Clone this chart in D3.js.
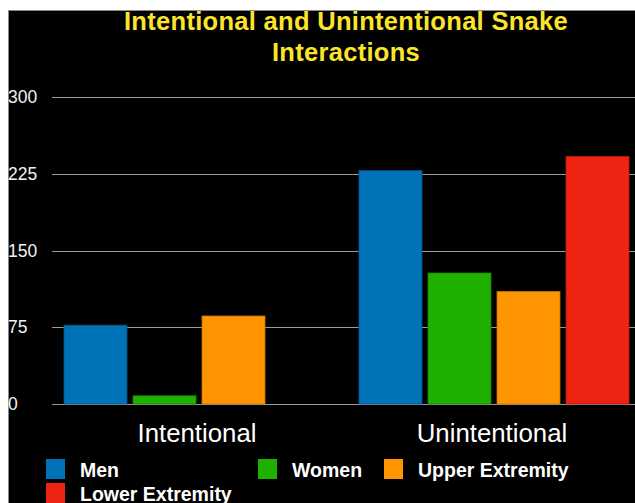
<!DOCTYPE html>
<html><head><meta charset="utf-8">
<script src="https://cdn.jsdelivr.net/npm/d3@7"></script>
<style>html,body{margin:0;padding:0;background:#fff;}svg{display:block;}</style>
</head><body>
<script>
const categories = ["Intentional", "Unintentional"];
const seriesNames = ["Men", "Women", "Upper Extremity", "Lower Extremity"];
const men = [77, 228];
const women = [8, 128];
const upperExtremity = [86, 110];
const lowerExtremity = [0, 242];
const yTicks = [0, 75, 150, 225, 300];
const titleLines = ["Intentional and Unintentional Snake", "Interactions"];
const colors = ["#0072b8", "#1eb100", "#ff9500", "#ee2311"];

const seriesValues = [men, women, upperExtremity, lowerExtremity];
const W = 635, H = 503;
const font = "'Liberation Sans', Arial, Helvetica, sans-serif";

const svg = d3.select("body").append("svg").attr("width", W).attr("height", H);
svg.append("rect").attr("x", 8.5).attr("y", 10.5).attr("width", W).attr("height", H)
  .attr("fill", "#000").attr("stroke", "#888").attr("stroke-width", 1);

const y = d3.scaleLinear().domain([0, 300]).range([404, 97]);
const x0 = d3.scaleBand().domain(categories).range([51.5, 641.5]).paddingInner(0.0847).paddingOuter(0.04235);
const x1 = d3.scaleBand().domain(seriesNames).range([0, x0.bandwidth()]).paddingInner(0.087).paddingOuter(0);

// gridlines
svg.append("g").selectAll("line").data(yTicks).join("line")
  .attr("x1", 52).attr("x2", W)
  .attr("y1", d => Math.round(y(d)) + 0.5).attr("y2", d => Math.round(y(d)) + 0.5)
  .attr("stroke", "#9a9a9a").attr("stroke-width", 1.2);

// tick labels
svg.append("g").selectAll("text").data(yTicks).join("text")
  .attr("x", 8).attr("y", d => y(d)).attr("dy", "0.35em")
  .attr("fill", "#f2f2f2").attr("font-family", font).attr("font-size", 17.5)
  .text(d => d);

// bars
const groups = svg.append("g").selectAll("g").data(categories).join("g")
  .attr("transform", d => `translate(${x0(d)},0)`);
groups.selectAll("rect").data((c, ci) => seriesNames.map((s, si) => ({s, si, v: seriesValues[si][ci]})))
  .join("rect")
  .filter(d => d.v > 0)
  .attr("x", d => x1(d.s)).attr("width", x1.bandwidth())
  .attr("y", d => y(d.v)).attr("height", d => y(0) - y(d.v))
  .attr("fill", d => colors[d.si])
  .attr("stroke", d => d3.color(colors[d.si]).darker(0.8)).attr("stroke-width", 0.8);

// category labels
svg.append("g").selectAll("text").data(categories).join("text")
  .attr("x", d => x0(d) + x0.bandwidth() / 2 - 2).attr("y", 442)
  .attr("text-anchor", "middle").attr("fill", "#fff")
  .attr("font-family", font).attr("font-size", 25.8).attr("font-weight", 300)
  .text(d => d);

// title
svg.append("g").selectAll("text").data(titleLines).join("text")
  .attr("x", 346).attr("y", (d, i) => 30 + i * 31)
  .attr("text-anchor", "middle").attr("fill", "#fbe52b")
  .attr("font-family", font).attr("font-size", 25.5).attr("font-weight", "bold")
  .attr("letter-spacing", 0.3)
  .text(d => d);

// legend
const legendPos = [[46, 459], [258, 459], [384, 459], [46, 483]];
const lg = svg.append("g").selectAll("g").data(seriesNames).join("g")
  .attr("transform", (d, i) => `translate(${legendPos[i][0]},${legendPos[i][1]})`);
lg.append("rect").attr("width", 19).attr("height", 20)
  .attr("fill", (d, i) => colors[i]);
lg.append("text").attr("x", 34).attr("y", 18)
  .attr("fill", "#fff").attr("font-family", font).attr("font-size", 19.5).attr("font-weight", "bold")
  .text(d => d);
</script>
</body></html>
